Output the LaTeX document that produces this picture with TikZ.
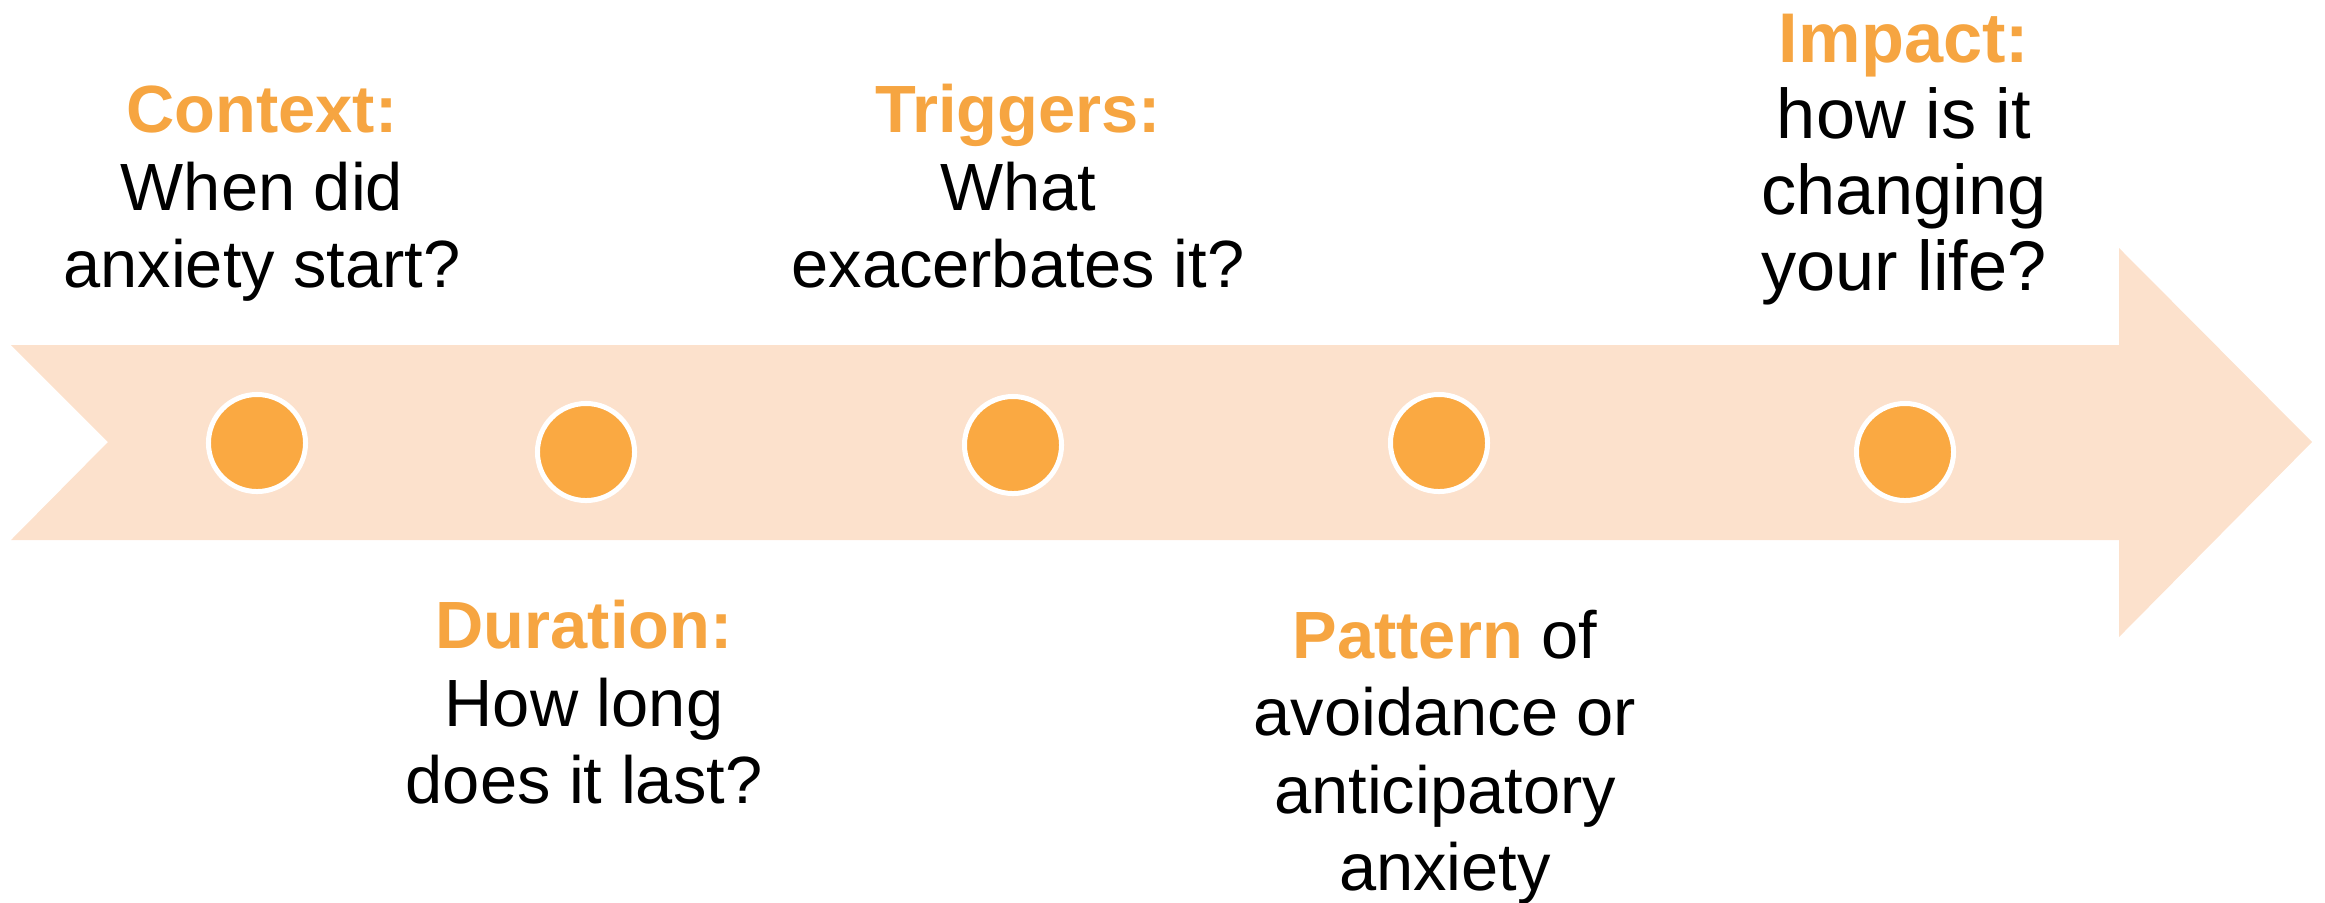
\documentclass[tikz,border=0pt]{standalone}
\usepackage{fontspec}
\setmainfont{Liberation Sans}
\definecolor{band}{HTML}{FCE1CC}
\definecolor{dot}{HTML}{FAA942}
\definecolor{accent}{HTML}{F6A541}
\begin{document}
\begin{tikzpicture}[x=0.01cm,y=-0.01cm,
  lbl/.style={anchor=base,align=center,inner sep=0pt,font=\fontsize{19}{21.9}\selectfont},
  lblbig/.style={lbl,font=\fontsize{20}{21.6}\selectfont},
  dotnode/.style={circle,fill=dot,draw=white,line width=0.05cm,minimum size=0.97cm,inner sep=0pt}]
\useasboundingbox (0,0) rectangle (2325,902);
% timeline arrow
\fill[band] (11,345) -- (2119,345) -- (2119,248) -- (2312,442) -- (2119,637)
  -- (2119,540) -- (11,540) -- (108,442) -- cycle;
% dots
\node[dotnode] (d1) at (257,443) {};
\node[dotnode] (d2) at (586,452) {};
\node[dotnode] (d3) at (1013,445) {};
\node[dotnode] (d4) at (1439,443) {};
\node[dotnode] (d5) at (1905,452) {};
% labels (anchor = baseline of the last line)
\node[lbl] (context) at (262,287) {\textbf{\color{accent}Context:}\\When did\\anxiety start?};
\node[lbl] (duration) at (584,803) {\textbf{\color{accent}Duration:}\\How long\\does it last?};
\node[lbl] (triggers) at (1018,287) {\textbf{\color{accent}Triggers:}\\What\\exacerbates it?};
\node[lbl] (pattern) at (1445,890) {\textbf{\color{accent}Pattern} of\\avoidance or\\anticipatory\\anxiety};
\node[lblbig] (impact) at (1904,290) {\textbf{\color{accent}Impact:}\\how is it\\changing\\your life?};
\end{tikzpicture}
\end{document}
